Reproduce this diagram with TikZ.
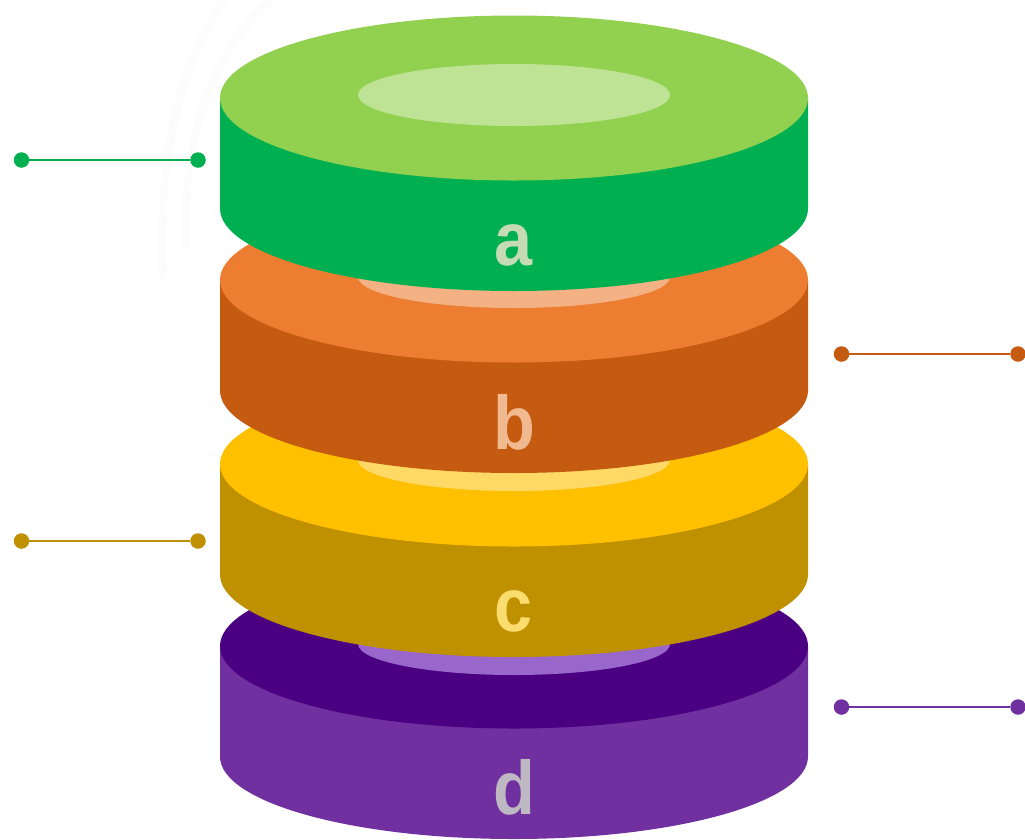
\documentclass[tikz,border=0pt]{standalone}
\usepackage{fontspec}
\setmainfont{Liberation Sans}
\definecolor{aside}{HTML}{00B050}\definecolor{atop}{HTML}{92D050}\definecolor{ain}{HTML}{BEE395}\definecolor{atx}{HTML}{C4DBB4}
\definecolor{bside}{HTML}{C55A11}\definecolor{btop}{HTML}{ED7D31}\definecolor{bin}{HTML}{F4B183}\definecolor{btx}{HTML}{F0B98F}
\definecolor{cside}{HTML}{BF9000}\definecolor{ctop}{HTML}{FFC000}\definecolor{cin}{HTML}{FFD966}\definecolor{ctx}{HTML}{FBDC6E}
\definecolor{dside}{HTML}{7030A0}\definecolor{dtop}{HTML}{4B0082}\definecolor{din}{HTML}{9966CC}\definecolor{dtx}{HTML}{BDB8C2}
\definecolor{ring}{HTML}{FCFCFC}
\tikzset{
  dot/.style={circle,fill=#1,inner sep=0pt,minimum size=15.5pt},
  lead/.style={draw=#1,line width=2pt},
  disklabel/.style={font=\fontsize{76}{76}\selectfont\bfseries,text=#1,inner sep=0pt,anchor=base},
  halo/.style={draw=ring,line width=8pt}
}
\newcommand{\narrow}[1]{\scalebox{.9}[1]{#1}}
% #1 prefix, #2 y of top-ellipse centre, #3 y of inner-ellipse centre
\newcommand{\diskshape}[3]{%
  \fill[#1side] (220,#2) -- (220,#2+110.5) arc[start angle=180,end angle=360,x radius=294,y radius=-82.5] -- (808,#2) -- cycle;
  \fill[#1top] (514,#2) ellipse[x radius=294,y radius=82.5];
  \fill[#1in] (514,#3) ellipse[x radius=156,y radius=31];
}
\begin{document}
\begin{tikzpicture}[x=1pt,y=-1pt]
\useasboundingbox (0,0) rectangle (1025,839);
\draw[halo] (163,280) .. controls (158,170) and (175,70) .. (225,0);
\draw[halo] (186,250) .. controls (182,150) and (205,60) .. (270,0);
\diskshape{d}{646}{644}
\diskshape{c}{464}{460}
\diskshape{b}{280}{277}
\diskshape{a}{98}{95}
\node[disklabel=atx] (la) at (514,265.5) {\narrow{a}};
\node[disklabel=btx] (lb) at (514,449) {\narrow{b}};
\node[disklabel=ctx] (lc) at (514,631) {\narrow{c}};
\node[disklabel=dtx] (ld) at (514,814) {\narrow{d}};
\node[dot=aside] (a1) at (21.5,160) {};
\node[dot=aside] (a2) at (198,160) {};
\draw[lead=aside] (a1) -- (a2);
\node[dot=bside] (b1) at (841.5,354) {};
\node[dot=bside] (b2) at (1018,354) {};
\draw[lead=bside] (b1) -- (b2);
\node[dot=cside] (c1) at (21.5,541) {};
\node[dot=cside] (c2) at (198,541) {};
\draw[lead=cside] (c1) -- (c2);
\node[dot=dside] (d1) at (841.5,707) {};
\node[dot=dside] (d2) at (1018,707) {};
\draw[lead=dside] (d1) -- (d2);
\end{tikzpicture}
\end{document}
